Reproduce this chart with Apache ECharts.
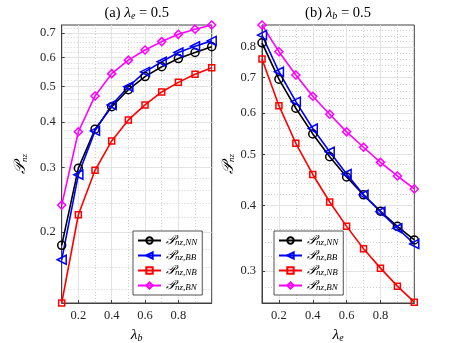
<!DOCTYPE html>
<html>
<head>
<meta charset="utf-8">
<script src="https://cdn.jsdelivr.net/npm/echarts@6/dist/echarts.min.js"></script>
<style>
html, body { margin: 0; padding: 0; background: #fff; }
#chart { width: 457px; height: 343px; }
</style>
</head>
<body>
<div id="chart"></div>
<script>
// x values shared by both panels
const lambdaValues = [0.1, 0.2, 0.3, 0.4, 0.5, 0.6, 0.7, 0.8, 0.9, 1.0]

// (a) lambda_e = 0.5, x = lambda_b
const leftNN = [0.184, 0.299, 0.382, 0.440, 0.490, 0.532, 0.566, 0.596, 0.619, 0.642]
const leftBB = [0.168, 0.287, 0.378, 0.445, 0.499, 0.548, 0.584, 0.619, 0.644, 0.666]
const leftNB = [0.128, 0.223, 0.295, 0.355, 0.405, 0.445, 0.483, 0.513, 0.540, 0.562]
const leftBN = [0.237, 0.376, 0.471, 0.542, 0.590, 0.629, 0.663, 0.694, 0.717, 0.736]

// (b) lambda_b = 0.5, x = lambda_e
const rightNN = [0.815, 0.695, 0.612, 0.547, 0.495, 0.453, 0.419, 0.390, 0.365, 0.344]
const rightBB = [0.843, 0.718, 0.630, 0.560, 0.506, 0.459, 0.419, 0.389, 0.362, 0.338]
const rightNB = [0.759, 0.619, 0.525, 0.458, 0.406, 0.365, 0.331, 0.304, 0.281, 0.262]
const rightBN = [0.881, 0.784, 0.708, 0.645, 0.596, 0.552, 0.516, 0.483, 0.455, 0.430]

// tick values
const xMajorTicks = [0.2, 0.4, 0.6, 0.8]
const xMinorTicks = [0.3, 0.5, 0.7, 0.9]
const leftYTicks = [0.2, 0.3, 0.4, 0.5, 0.6, 0.7]
const leftYMinor = [0.14, 0.16, 0.18, 0.22, 0.24, 0.26, 0.28, 0.32, 0.34, 0.36, 0.38,
  0.42, 0.44, 0.46, 0.48, 0.52, 0.54, 0.56, 0.58, 0.62, 0.64, 0.66, 0.68, 0.72]
const rightYTicks = [0.3, 0.4, 0.5, 0.6, 0.7, 0.8]
const rightYMinor = [0.28, 0.32, 0.34, 0.36, 0.38, 0.42, 0.44, 0.46, 0.48, 0.52, 0.54,
  0.56, 0.58, 0.62, 0.64, 0.66, 0.68, 0.72, 0.74, 0.76, 0.78, 0.82, 0.84, 0.86]
const leftYRange = [0.128, 0.736]
const rightYRange = [0.261, 0.881]

const seriesNames = ['NN', 'BB', 'NB', 'BN']
const seriesColors = ['#000000', '#0000ff', '#ff0000', '#ff00ff']
const seriesSymbols = ['circle', 'triangle', 'rect', 'diamond']
const seriesSizes = [8, 9, 6, 8]
const seriesRotate = [0, 90, 0, 0]

const serif = 'Liberation Serif'
const axisColor = '#404040'
const gridColor = '#e3e3e3'
const minorColor = '#cfcfcf'

const mathRich = {
  n: { fontFamily: serif, fontSize: 14.5, color: '#000' },
  l: { fontFamily: serif, fontStyle: 'italic', fontSize: 15.5, color: '#000' },
  s: { fontFamily: serif, fontStyle: 'italic', fontSize: 10, color: '#000', verticalAlign: 'bottom', padding: [6, 0, 0, 0] },
  p: { fontFamily: 'DejaVu Serif', fontStyle: 'italic', fontSize: 16, color: '#000' },
  ps: { fontFamily: serif, fontStyle: 'italic', fontSize: 9, color: '#000', verticalAlign: 'bottom', padding: [6, 0, 0, 0] },
}

const makeXAxes = (gridIndex, name) => [
  {
    type: 'value', gridIndex, min: 0.1, max: 1.0,
    name, nameLocation: 'middle', nameGap: 23,
    nameTextStyle: { rich: mathRich },
    axisLine: { show: true, lineStyle: { color: axisColor, width: 1 } },
    axisTick: { show: true, inside: true, length: 3, customValues: xMajorTicks, lineStyle: { color: axisColor } },
    axisLabel: { customValues: xMajorTicks, formatter: v => v.toFixed(1), fontFamily: serif, fontSize: 12.5, color: '#262626', margin: 6 },
    splitLine: { show: true, lineStyle: { color: gridColor, width: 1 } },
  },
  {
    type: 'value', gridIndex, min: 0.1, max: 1.0,
    axisLine: { show: false },
    axisTick: { show: false, customValues: xMinorTicks },
    axisLabel: { show: false },
    splitLine: { show: true, lineStyle: { color: minorColor, width: 1, type: [1, 2] } },
  },
]

const makeYAxes = (gridIndex, range, ticks, minor, nameGap) => [
  {
    type: 'log', logBase: 10, gridIndex, min: range[0], max: range[1],
    name: '{p|𝒫}{ps|nz}', nameLocation: 'middle', nameGap, nameRotate: 90,
    nameTextStyle: { rich: mathRich },
    axisLine: { show: true, lineStyle: { color: axisColor, width: 1 } },
    axisTick: { show: true, inside: true, length: 3, customValues: ticks, lineStyle: { color: axisColor } },
    axisLabel: { customValues: ticks, formatter: v => Number(v).toFixed(1), fontFamily: serif, fontSize: 12.5, color: '#262626', margin: 6 },
    splitLine: { show: true, lineStyle: { color: gridColor, width: 1 } },
  },
  {
    type: 'log', logBase: 10, gridIndex, min: range[0], max: range[1],
    axisLine: { show: false },
    axisTick: { show: false, customValues: minor },
    axisLabel: { show: false },
    splitLine: { show: true, lineStyle: { color: minorColor, width: 1, type: [1, 2] } },
  },
]

const makeSeries = (panelData, xAxisIndex, yAxisIndex) =>
  panelData.map((values, i) => ({
    type: 'line',
    name: seriesNames[i],
    xAxisIndex,
    yAxisIndex,
    data: lambdaValues.map((x, j) => [x, values[j]]),
    color: seriesColors[i],
    symbol: seriesSymbols[i],
    symbolSize: seriesSizes[i],
    symbolRotate: seriesRotate[i],
    showAllSymbol: true,
    clip: false,
    lineStyle: { color: seriesColors[i], width: 1.6 },
    itemStyle: { color: 'rgba(255,255,255,0)', borderColor: seriesColors[i], borderWidth: 1.5 },
    emphasis: { disabled: true },
  }))

const makeLegend = (left) => ({
  left, top: 231, orient: 'vertical',
  data: seriesNames,
  itemWidth: 23, itemHeight: 8, itemGap: 2,
  padding: [3, 5, 3, 4],
  backgroundColor: '#fff', borderColor: '#262626', borderWidth: 0.8, borderRadius: 0,
  formatter: name => `{p|𝒫}{ps|nz,${name}}`,
  textStyle: { lineHeight: 13, rich: {
    p: { fontFamily: 'DejaVu Serif', fontStyle: 'italic', fontSize: 13, color: '#000' },
    ps: { fontFamily: serif, fontStyle: 'italic', fontSize: 9, color: '#000', verticalAlign: 'bottom', padding: [4, 0, 0, 0] },
  } },
  selectedMode: false,
})

const chart = echarts.init(document.getElementById('chart'), null, { renderer: 'canvas' })

chart.setOption({
  animation: false,
  backgroundColor: '#fff',
  grid: [
    { left: 61.7, right: 245.3, top: 25, bottom: 40, outerBoundsMode: 'none', containLabel: false, show: true, borderColor: axisColor, borderWidth: 1, backgroundColor: 'transparent' },
    { left: 262, right: 42.7, top: 25, bottom: 40, outerBoundsMode: 'none', containLabel: false, show: true, borderColor: axisColor, borderWidth: 1, backgroundColor: 'transparent' },
  ],
  graphic: [
    { type: 'text', x: 136.7, y: 13, style: { text: '{n|(a) }{l|λ}{s|e}{n| = 0.5}', rich: mathRich, align: 'center', verticalAlign: 'middle' } },
    { type: 'text', x: 338, y: 13, style: { text: '{n|(b) }{l|λ}{s|b}{n| = 0.5}', rich: mathRich, align: 'center', verticalAlign: 'middle' } },
  ],
  xAxis: [...makeXAxes(0, '{l|λ}{s|b}'), ...makeXAxes(1, '{l|λ}{s|e}')],
  yAxis: [
    ...makeYAxes(0, leftYRange, leftYTicks, leftYMinor, 33),
    ...makeYAxes(1, rightYRange, rightYTicks, rightYMinor, 18),
  ],
  legend: [makeLegend(133), makeLegend(274)],
  series: [
    ...makeSeries([leftNN, leftBB, leftNB, leftBN], 0, 0),
    ...makeSeries([rightNN, rightBB, rightNB, rightBN], 2, 2),
  ],
})
</script>
</body>
</html>
